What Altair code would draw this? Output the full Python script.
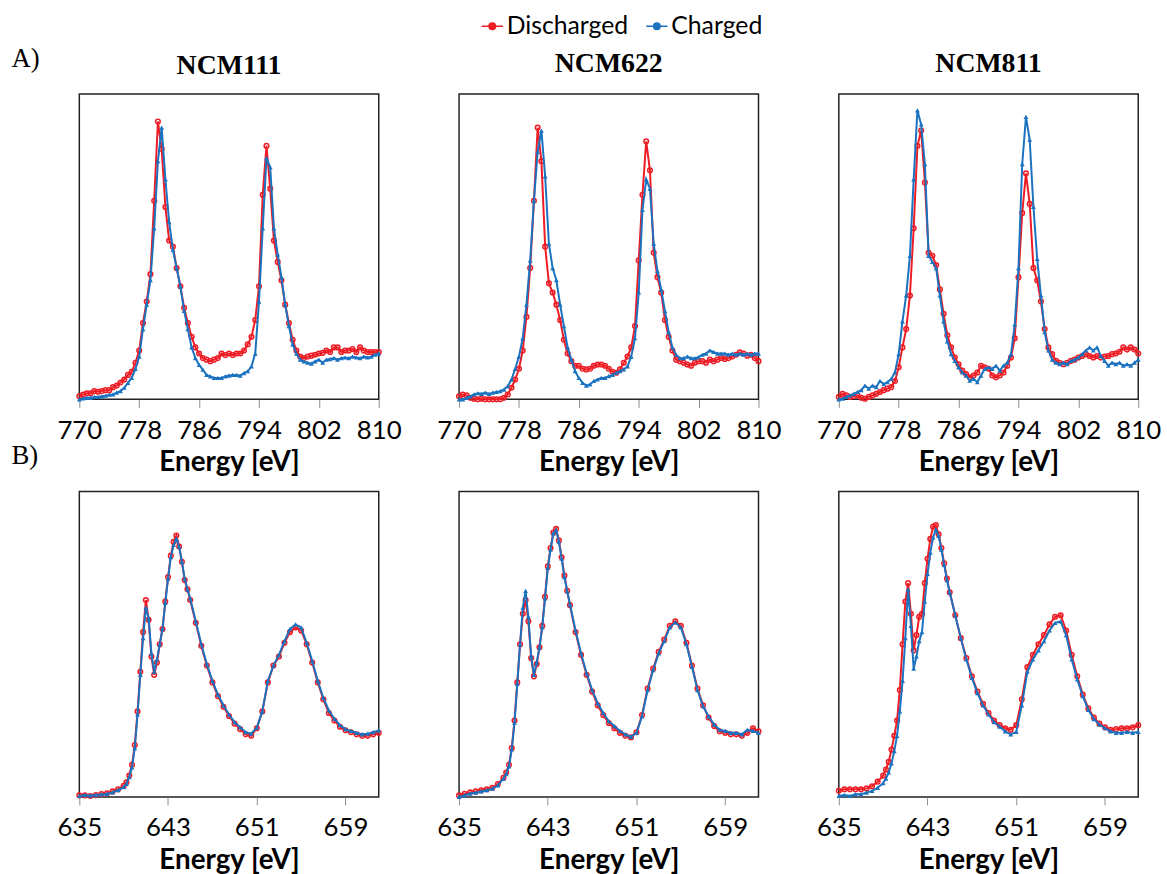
import altair as alt
import pandas as pd

# ---------------- data (intensity as fraction of panel height) ----------------
TOP_E = [770.0, 770.5, 771.0, 771.5, 772.0, 772.5, 773.0, 773.5, 774.0, 774.5,
         775.0, 775.5, 776.0, 776.5, 777.0, 777.5, 778.0, 778.5, 779.0, 779.5,
         780.0, 780.5, 781.0, 781.5, 782.0, 782.5, 783.0, 783.5, 784.0, 784.5,
         785.0, 785.5, 786.0, 786.5, 787.0, 787.5, 788.0, 788.5, 789.0, 789.5,
         790.0, 790.5, 791.0, 791.5, 792.0, 792.5, 793.0, 793.5, 794.0, 794.5,
         795.0, 795.5, 796.0, 796.5, 797.0, 797.5, 798.0, 798.5, 799.0, 799.5,
         800.0, 800.5, 801.0, 801.5, 802.0, 802.5, 803.0, 803.5, 804.0, 804.5,
         805.0, 805.5, 806.0, 806.5, 807.0, 807.5, 808.0, 808.5, 809.0, 809.5,
         810.0]

NI_111_DIS = [0.010, 0.016, 0.020, 0.020, 0.027, 0.025, 0.027, 0.030, 0.030, 0.040,
              0.045, 0.055, 0.065, 0.080, 0.090, 0.120, 0.160, 0.250, 0.320, 0.410,
              0.650, 0.910, 0.820, 0.630, 0.520, 0.500, 0.430, 0.370, 0.300, 0.250,
              0.205, 0.170, 0.150, 0.135, 0.130, 0.125, 0.130, 0.135, 0.150, 0.145,
              0.150, 0.145, 0.150, 0.150, 0.160, 0.180, 0.205, 0.260, 0.370, 0.670,
              0.830, 0.690, 0.520, 0.450, 0.390, 0.310, 0.250, 0.195, 0.160, 0.140,
              0.135, 0.140, 0.143, 0.146, 0.150, 0.152, 0.160, 0.155, 0.170, 0.170,
              0.155, 0.160, 0.160, 0.165, 0.155, 0.170, 0.160, 0.155, 0.155, 0.155,
              0.155]
NI_111_CHG = [0.000, 0.003, 0.005, 0.005, 0.008, 0.008, 0.010, 0.012, 0.015, 0.016,
              0.022, 0.027, 0.038, 0.054, 0.070, 0.100, 0.140, 0.230, 0.310, 0.390,
              0.560, 0.780, 0.890, 0.720, 0.580, 0.490, 0.430, 0.370, 0.290, 0.230,
              0.170, 0.135, 0.113, 0.097, 0.080, 0.075, 0.070, 0.070, 0.070, 0.075,
              0.078, 0.080, 0.080, 0.078, 0.086, 0.092, 0.108, 0.150, 0.320, 0.560,
              0.790, 0.760, 0.560, 0.475, 0.400, 0.310, 0.240, 0.180, 0.150, 0.130,
              0.124, 0.120, 0.117, 0.124, 0.130, 0.120, 0.130, 0.132, 0.135, 0.130,
              0.135, 0.137, 0.135, 0.140, 0.137, 0.135, 0.140, 0.137, 0.140, 0.146,
              0.150]

NI_622_DIS = [0.010, 0.016, 0.013, 0.005, 0.002, 0.000, 0.002, 0.000, 0.000, 0.000,
              0.000, 0.000, 0.005, 0.016, 0.038, 0.065, 0.100, 0.160, 0.270, 0.430,
              0.650, 0.890, 0.780, 0.500, 0.380, 0.350, 0.310, 0.260, 0.195, 0.150,
              0.125, 0.110, 0.110, 0.100, 0.098, 0.100, 0.110, 0.114, 0.114, 0.110,
              0.100, 0.090, 0.087, 0.098, 0.120, 0.140, 0.170, 0.240, 0.455, 0.670,
              0.845, 0.750, 0.480, 0.400, 0.350, 0.260, 0.205, 0.160, 0.130, 0.125,
              0.120, 0.114, 0.110, 0.120, 0.125, 0.125, 0.120, 0.130, 0.125, 0.130,
              0.135, 0.132, 0.135, 0.140, 0.146, 0.154, 0.150, 0.143, 0.146, 0.135,
              0.125]
NI_622_CHG = [0.000, 0.000, 0.005, 0.010, 0.016, 0.020, 0.018, 0.022, 0.018, 0.022,
              0.024, 0.027, 0.032, 0.043, 0.065, 0.100, 0.140, 0.200, 0.310, 0.455,
              0.650, 0.810, 0.880, 0.730, 0.510, 0.430, 0.390, 0.310, 0.240, 0.170,
              0.130, 0.092, 0.070, 0.054, 0.045, 0.049, 0.060, 0.065, 0.070, 0.070,
              0.076, 0.080, 0.087, 0.092, 0.098, 0.108, 0.140, 0.200, 0.350, 0.620,
              0.720, 0.690, 0.510, 0.420, 0.360, 0.290, 0.220, 0.170, 0.146, 0.135,
              0.135, 0.140, 0.135, 0.135, 0.138, 0.146, 0.150, 0.160, 0.155, 0.150,
              0.150, 0.150, 0.146, 0.150, 0.146, 0.150, 0.146, 0.150, 0.146, 0.150,
              0.150]

NI_811_DIS = [0.008, 0.018, 0.013, 0.008, 0.010, 0.013, 0.005, 0.002, 0.008, 0.013,
              0.018, 0.024, 0.030, 0.035, 0.040, 0.060, 0.105, 0.170, 0.230, 0.340,
              0.560, 0.830, 0.880, 0.710, 0.480, 0.470, 0.440, 0.360, 0.280, 0.210,
              0.170, 0.137, 0.115, 0.094, 0.083, 0.072, 0.078, 0.088, 0.110, 0.105,
              0.100, 0.078, 0.072, 0.078, 0.088, 0.110, 0.137, 0.200, 0.400, 0.610,
              0.740, 0.640, 0.430, 0.390, 0.320, 0.230, 0.170, 0.148, 0.126, 0.120,
              0.115, 0.120, 0.126, 0.130, 0.137, 0.142, 0.148, 0.142, 0.137, 0.142,
              0.137, 0.140, 0.142, 0.148, 0.150, 0.156, 0.170, 0.163, 0.170, 0.163,
              0.150]
NI_811_CHG = [0.000, 0.002, 0.008, 0.013, 0.018, 0.024, 0.030, 0.045, 0.035, 0.045,
              0.040, 0.060, 0.050, 0.056, 0.067, 0.088, 0.148, 0.255, 0.340, 0.470,
              0.720, 0.946, 0.900, 0.770, 0.470, 0.450, 0.430, 0.340, 0.255, 0.190,
              0.148, 0.126, 0.105, 0.088, 0.078, 0.061, 0.067, 0.056, 0.078, 0.100,
              0.105, 0.100, 0.110, 0.094, 0.110, 0.120, 0.148, 0.245, 0.430, 0.770,
              0.925, 0.850, 0.630, 0.460, 0.340, 0.220, 0.160, 0.130, 0.120, 0.115,
              0.120, 0.115, 0.126, 0.130, 0.137, 0.148, 0.160, 0.170, 0.160, 0.170,
              0.142, 0.126, 0.110, 0.120, 0.115, 0.120, 0.110, 0.115, 0.110, 0.120,
              0.130]

BOT_E = [635.0, 635.5, 636.0, 636.5, 637.0, 637.5, 638.0, 638.5, 639.0,
         639.25, 639.5, 639.75, 640.0, 640.25, 640.5, 640.75, 641.0, 641.25, 641.5, 641.75, 642.0,
         642.25, 642.5, 642.75, 643.0, 643.25, 643.5, 643.75, 644.0, 644.25, 644.5, 644.75, 645.0,
         645.5, 646.0, 646.5, 647.0, 647.5, 648.0, 648.5, 649.0, 649.5, 650.0,
         650.5, 651.0, 651.5, 652.0, 652.5, 653.0, 653.5, 654.0, 654.5, 655.0,
         655.5, 656.0, 656.5, 657.0, 657.5, 658.0, 658.5, 659.0, 659.5, 660.0,
         660.5, 661.0, 661.5, 662.0]

MN_111_DIS = [0.005, 0.005, 0.003, 0.006, 0.009, 0.012, 0.018, 0.025, 0.036,
              0.048, 0.070, 0.105, 0.170, 0.280, 0.410, 0.540, 0.645, 0.580, 0.460, 0.400, 0.440,
              0.500, 0.550, 0.640, 0.720, 0.790, 0.835, 0.856, 0.820, 0.770, 0.710, 0.680, 0.645,
              0.570, 0.495, 0.430, 0.375, 0.330, 0.295, 0.265, 0.240, 0.222, 0.205,
              0.200, 0.225, 0.280, 0.375, 0.430, 0.460, 0.505, 0.540, 0.555, 0.545,
              0.500, 0.440, 0.375, 0.320, 0.275, 0.250, 0.230, 0.218, 0.212, 0.205,
              0.200, 0.200, 0.205, 0.210]
MN_111_CHG = [0.003, 0.006, 0.004, 0.006, 0.008, 0.010, 0.015, 0.022, 0.032,
              0.043, 0.065, 0.097, 0.160, 0.270, 0.400, 0.520, 0.620, 0.585, 0.470, 0.410, 0.450,
              0.500, 0.550, 0.635, 0.715, 0.785, 0.825, 0.845, 0.820, 0.770, 0.715, 0.680, 0.650,
              0.575, 0.500, 0.435, 0.380, 0.335, 0.300, 0.270, 0.245, 0.228, 0.212,
              0.207, 0.227, 0.280, 0.380, 0.430, 0.465, 0.510, 0.550, 0.565, 0.555,
              0.505, 0.445, 0.380, 0.325, 0.283, 0.256, 0.235, 0.222, 0.216, 0.210,
              0.205, 0.207, 0.212, 0.218]

MN_622_DIS = [0.005, 0.010, 0.015, 0.018, 0.022, 0.025, 0.030, 0.042, 0.063,
              0.080, 0.105, 0.160, 0.250, 0.375, 0.500, 0.600, 0.645, 0.575, 0.455, 0.395, 0.435,
              0.490, 0.560, 0.655, 0.755, 0.815, 0.866, 0.878, 0.840, 0.785, 0.725, 0.675, 0.628,
              0.540, 0.465, 0.400, 0.345, 0.300, 0.268, 0.242, 0.225, 0.210, 0.200,
              0.195, 0.212, 0.268, 0.355, 0.420, 0.475, 0.515, 0.560, 0.575, 0.560,
              0.505, 0.430, 0.355, 0.300, 0.260, 0.232, 0.215, 0.210, 0.205, 0.205,
              0.200, 0.210, 0.225, 0.215]
MN_622_CHG = [0.000, 0.005, 0.011, 0.014, 0.018, 0.022, 0.027, 0.038, 0.060,
              0.075, 0.100, 0.156, 0.243, 0.370, 0.500, 0.620, 0.675, 0.590, 0.460, 0.400, 0.440,
              0.490, 0.555, 0.650, 0.750, 0.810, 0.863, 0.874, 0.836, 0.780, 0.720, 0.674, 0.630,
              0.545, 0.470, 0.405, 0.350, 0.307, 0.275, 0.248, 0.232, 0.216, 0.205,
              0.197, 0.210, 0.264, 0.350, 0.415, 0.470, 0.510, 0.555, 0.572, 0.555,
              0.500, 0.426, 0.350, 0.297, 0.264, 0.237, 0.220, 0.216, 0.210, 0.210,
              0.205, 0.220, 0.216, 0.210]

MN_811_DIS = [0.020, 0.025, 0.025, 0.025, 0.025, 0.028, 0.035, 0.050, 0.070,
              0.090, 0.115, 0.155, 0.200, 0.250, 0.350, 0.500, 0.640, 0.700, 0.600, 0.480, 0.530,
              0.590, 0.600, 0.700, 0.780, 0.845, 0.885, 0.890, 0.860, 0.815, 0.765, 0.715, 0.670,
              0.595, 0.520, 0.455, 0.395, 0.345, 0.305, 0.275, 0.250, 0.235, 0.225,
              0.220, 0.235, 0.320, 0.425, 0.465, 0.500, 0.530, 0.565, 0.590, 0.595,
              0.545, 0.465, 0.395, 0.335, 0.290, 0.260, 0.240, 0.228, 0.220, 0.222,
              0.225, 0.225, 0.228, 0.235]
MN_811_CHG = [0.003, 0.006, 0.003, 0.009, 0.009, 0.014, 0.020, 0.030, 0.045,
              0.060, 0.080, 0.110, 0.150, 0.200, 0.280, 0.380, 0.520, 0.680, 0.560, 0.420, 0.460,
              0.510, 0.540, 0.640, 0.730, 0.800, 0.850, 0.875, 0.855, 0.810, 0.760, 0.710, 0.670,
              0.595, 0.520, 0.450, 0.390, 0.340, 0.300, 0.270, 0.245, 0.230, 0.215,
              0.205, 0.213, 0.300, 0.410, 0.450, 0.480, 0.510, 0.545, 0.570, 0.575,
              0.530, 0.450, 0.385, 0.330, 0.285, 0.255, 0.237, 0.225, 0.215, 0.210,
              0.210, 0.213, 0.210, 0.213]

SERIES = ["Discharged", "Charged"]
COLORS = ["#ee1c24", "#1b72c0"]
TITLES = ["NCM111", "NCM622", "NCM811"]
ROW_LABELS = ["A)", "B)"]
TOP_TICKS = [770, 778, 786, 794, 802, 810]
BOT_TICKS = [635, 643, 651, 659]
TOP_DOMAIN = [770, 810]
BOT_DOMAIN = [635, 662]

# ---------------- chart ----------------
SYM = "M-1,0L-0.3,0M0.3,0L1,0M-0.3,0A0.3,0.3,0,1,1,0.3,0A0.3,0.3,0,1,1,-0.3,0Z"
LEGEND = alt.Legend(title=None, orient="none", legendX=404, legendY=-81,
                    direction="horizontal", labelFont="Lato", labelFontSize=25,
                    labelColor="black", symbolType=SYM, symbolSize=460,
                    symbolStrokeWidth=1.6, symbolFillColor="white",
                    columnPadding=14, labelOffset=2)
COLOR = alt.Color("Series:N", scale=alt.Scale(domain=SERIES, range=COLORS), legend=LEGEND)


def panel(energies, dis, chg, domain, ticks, title=None, row_label=None, title_offset=16):
    n = len(energies)
    df = pd.DataFrame({
        "Energy": list(energies) * 2,
        "Intensity": list(dis) + list(chg),
        "Series": [SERIES[0]] * n + [SERIES[1]] * n,
    })
    if row_label is None:
        yaxis = None
    else:
        yaxis = alt.Axis(title=row_label, labels=False, ticks=False, domain=False, grid=False,
                         titleAngle=0, titleX=-69, titleY=-28, titleAlign="left",
                         titleBaseline="alphabetic", titleFont="Liberation Serif",
                         titleFontSize=27, titleFontWeight="normal", titleColor="black")
    base = alt.Chart(df).encode(
        x=alt.X("Energy:Q", scale=alt.Scale(domain=domain, nice=False, zero=False),
                axis=alt.Axis(values=ticks, title="Energy [eV]", format="d")),
        y=alt.Y("Intensity:Q", scale=alt.Scale(domain=[0, 1], nice=False, zero=False), axis=yaxis),
        color=COLOR,
    )
    red = base.transform_filter(alt.datum.Series == SERIES[0])
    blue = base.transform_filter(alt.datum.Series == SERIES[1])
    layered = alt.layer(
        red.mark_line(strokeWidth=2),
        red.mark_point(shape="circle", filled=False, size=22, strokeWidth=1.5, opacity=1),
        blue.mark_line(strokeWidth=2),
        blue.mark_point(shape="triangle-up", filled=True, size=24, opacity=1),
    )
    props = dict(width=302, height=308)
    if title is not None:
        props["title"] = alt.Title(title, font="Liberation Serif", fontSize=28,
                                   fontWeight="bold", color="black", offset=title_offset)
    return layered.properties(**props)


panels = [
    panel(TOP_E, NI_111_DIS, NI_111_CHG, TOP_DOMAIN, TOP_TICKS, TITLES[0], ROW_LABELS[0],
          title_offset=-36),
    panel(TOP_E, NI_622_DIS, NI_622_CHG, TOP_DOMAIN, TOP_TICKS, TITLES[1]),
    panel(TOP_E, NI_811_DIS, NI_811_CHG, TOP_DOMAIN, TOP_TICKS, TITLES[2]),
    panel(BOT_E, MN_111_DIS, MN_111_CHG, BOT_DOMAIN, BOT_TICKS, None, ROW_LABELS[1]),
    panel(BOT_E, MN_622_DIS, MN_622_CHG, BOT_DOMAIN, BOT_TICKS),
    panel(BOT_E, MN_811_DIS, MN_811_CHG, BOT_DOMAIN, BOT_TICKS),
]

chart = alt.concat(*panels, columns=3, spacing={"row": 93, "column": 81},
                   bounds="flush").properties(
    padding={"left": 10, "top": 10, "right": 5, "bottom": 0},
    background="white",
).configure_axis(
    labelFont="Lato", labelFontSize=26, labelColor="black", labelFlush=False,
    labelPadding=10, titleFont="Lato", titleFontSize=28, titleFontWeight="bold",
    titleColor="black", titlePadding=6, tickColor="#8c8c8c", tickSize=8, tickWidth=1,
    domain=False, grid=False,
).configure_view(stroke="#222222", strokeWidth=1.5)

chart.save("out.html", embed_options={"renderer": "svg", "actions": False})
